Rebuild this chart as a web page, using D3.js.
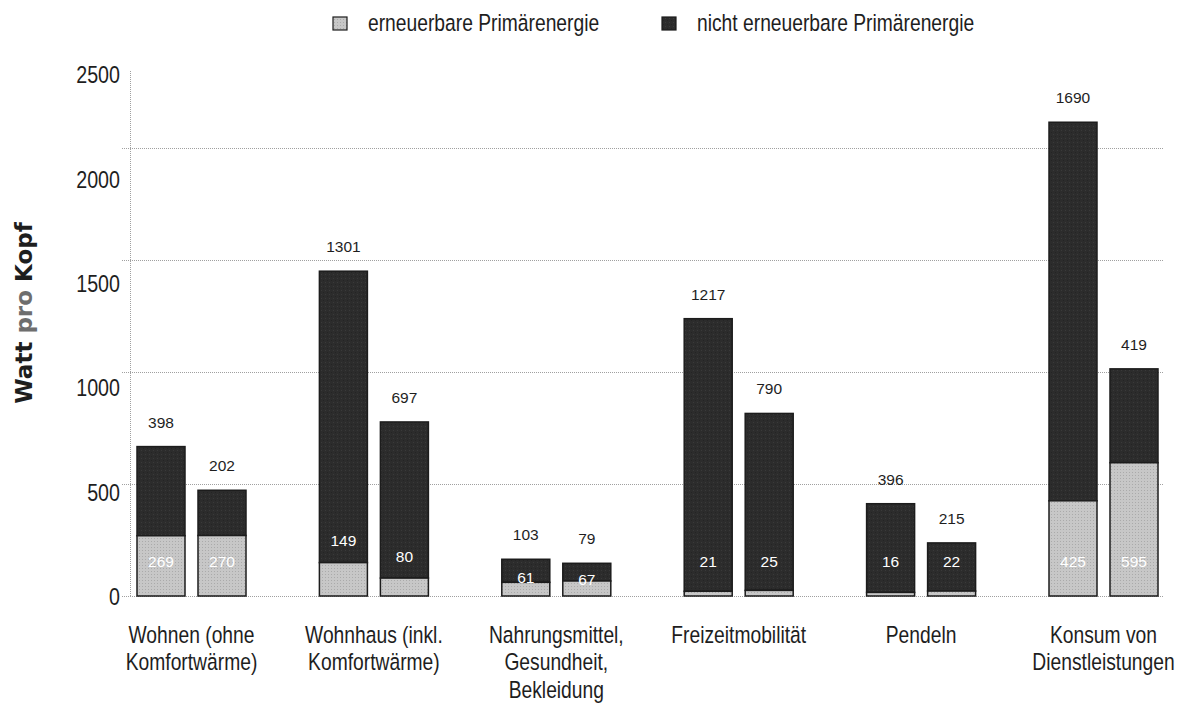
<!DOCTYPE html>
<html>
<head>
<meta charset="utf-8">
<script src="https://cdn.jsdelivr.net/npm/d3@7"></script>
<style>
  html, body { margin: 0; padding: 0; background: #ffffff; }
  svg { display: block; }
</style>
</head>
<body>
<svg id="chart" width="1185" height="703"></svg>
<script>
// ---------------- DATA ----------------
const categories = [
  "Wohnen (ohne\nKomfortwärme)",
  "Wohnhaus (inkl.\nKomfortwärme)",
  "Nahrungsmittel,\nGesundheit,\nBekleidung",
  "Freizeitmobilität",
  "Pendeln",
  "Konsum von\nDienstleistungen"
];
const seriesNames = ["erneuerbare Primärenergie", "nicht erneuerbare Primärenergie"];
// two bars per category
const renewable    = [[269, 270], [149, 80], [61, 67], [21, 25], [16, 22], [425, 595]];
const nonRenewable = [[398, 202], [1301, 697], [103, 79], [1217, 790], [396, 215], [1690, 419]];
const yTickValues  = [0, 500, 1000, 1500, 2000, 2500];
const gridValues   = [0, 500, 1000, 1500, 2000];
const yTitle = ["Watt ", "pro", " Kopf"];

// ---------------- LAYOUT ----------------
const baseY = 596;
const colDark = "#2c2c2c", colLight = "#c7c7c7", colStroke = "#1c1c1c";
const regular = "'Liberation Sans', Arial, sans-serif";
const narrowScale = "scale(0.82,1)";

const svg = d3.select("#chart");

// pattern textures
const defs = svg.append("defs");
const pl = defs.append("pattern").attr("id", "patLight").attr("width", 3).attr("height", 3)
  .attr("patternUnits", "userSpaceOnUse");
pl.append("rect").attr("width", 3).attr("height", 3).attr("fill", colLight);
pl.append("rect").attr("x", 1).attr("y", 1).attr("width", 1).attr("height", 1).attr("fill", "#aaaaaa");
const pd = defs.append("pattern").attr("id", "patDark").attr("width", 4).attr("height", 4)
  .attr("patternUnits", "userSpaceOnUse");
pd.append("rect").attr("width", 4).attr("height", 4).attr("fill", colDark);
pd.append("rect").attr("x", 1).attr("y", 2).attr("width", 1).attr("height", 1).attr("fill", "#3a3a3a");
pd.append("rect").attr("x", 3).attr("y", 0).attr("width", 1).attr("height", 1).attr("fill", "#242424");

// scales
const y = d3.scaleLinear().domain([0, 2500]).range([baseY, 36]);      // bars & grid
const yLabel = d3.scaleLinear().domain([0, 2500]).range([baseY, 74]); // printed tick labels
const x = d3.scaleBand().domain(d3.range(categories.length)).range([100.3, 1194.7]).padding(0);
const xInner = d3.scaleBand().domain([0, 1]).range([-54.5, 54.5]).paddingInner(13 / 61).paddingOuter(0);
const cx = i => x(i) + x.bandwidth() / 2;

// gridlines
const gridAxis = d3.axisLeft(y).tickValues(gridValues).tickSize(-(1164 - 122)).tickFormat("");
const gG = svg.append("g").attr("transform", "translate(122,0)").call(gridAxis);
gG.select(".domain").remove();
gG.selectAll("line").attr("stroke", "#a0a0a0").attr("stroke-width", 1).attr("stroke-dasharray", "1,1");

// vertical axis dotted line
svg.append("line").attr("x1", 130.5).attr("x2", 130.5).attr("y1", 71).attr("y2", baseY)
  .attr("stroke", "#a0a0a0").attr("stroke-width", 1).attr("stroke-dasharray", "1,1");

// tick labels
const labAxis = d3.axisLeft(yLabel).tickValues(yTickValues).tickSize(0).tickPadding(0).tickFormat(d3.format("d"));
const lG = svg.append("g").attr("transform", "translate(120,0)").call(labAxis);
lG.select(".domain").remove();
lG.selectAll("text").attr("font-family", regular).attr("font-size", 24).attr("fill", "#1e1e1e")
  .attr("dy", "0.36em").attr("transform", narrowScale);

// bars
const flat = [];
categories.forEach((c, i) => {
  [0, 1].forEach(j => flat.push({ i, j, r: renewable[i][j], n: nonRenewable[i][j] }));
});
const bx = d => cx(d.i) + xInner(d.j);

const bars = svg.append("g").selectAll("g").data(flat).join("g");
bars.append("rect")
  .attr("x", bx).attr("width", xInner.bandwidth())
  .attr("y", d => y(d.r + d.n)).attr("height", d => y(d.r) - y(d.r + d.n))
  .attr("fill", "url(#patDark)").attr("stroke", colStroke).attr("stroke-width", 1.5);
bars.append("rect")
  .attr("x", bx).attr("width", xInner.bandwidth())
  .attr("y", d => y(d.r)).attr("height", d => y(0) - y(d.r))
  .attr("fill", "url(#patLight)").attr("stroke", colStroke).attr("stroke-width", 1.5);

// top value labels (non-renewable)
bars.append("text")
  .attr("x", d => bx(d) + xInner.bandwidth() / 2)
  .attr("y", d => y(d.r + d.n) - 19)
  .attr("text-anchor", "middle").attr("font-family", regular).attr("font-size", 15.5).attr("fill", "#1e1e1e")
  .text(d => d.n);

// inner value labels (renewable)
function innerY(d) {
  const hLight = y(0) - y(d.r);
  const hDark = y(d.r) - y(d.r + d.n);
  if (hLight >= 40) return y(0) - 35;
  if (hDark >= 40) return Math.min(y(0) - 35, y(d.r) - 22);
  return (y(0) + y(d.r + d.n)) / 2;
}
bars.append("text")
  .attr("x", d => bx(d) + xInner.bandwidth() / 2)
  .attr("y", d => innerY(d) + 5.5)
  .attr("text-anchor", "middle").attr("font-family", regular).attr("font-size", 15.5).attr("fill", "#ffffff")
  .text(d => d.r);

// category labels
const clG = svg.append("g").selectAll("g").data(categories).join("g")
  .attr("transform", (d, i) => `translate(${cx(i)},643)`);
const cl = clG.append("text").attr("transform", narrowScale)
  .attr("text-anchor", "middle").attr("font-family", regular).attr("font-size", 23.5).attr("fill", "#1e1e1e");
cl.each(function (d) {
  const t = d3.select(this);
  d.split("\n").forEach((line, k) => {
    t.append("tspan").attr("x", 0).attr("dy", k === 0 ? 0 : 27.5).text(line);
  });
});

// legend
const legX = [333, 662];
const leg = svg.append("g").selectAll("g").data(seriesNames).join("g");
leg.append("rect").attr("x", (d, i) => legX[i]).attr("y", 17).attr("width", 14).attr("height", 13)
  .attr("fill", (d, i) => i === 0 ? "url(#patLight)" : "url(#patDark)")
  .attr("stroke", colStroke).attr("stroke-width", 1.2);
leg.append("g").attr("transform", (d, i) => `translate(${legX[i] + 35},31)`)
  .append("text").attr("transform", narrowScale)
  .attr("font-family", regular).attr("font-size", 23.5).attr("fill", "#1e1e1e").text(d => d);

// y-axis title
const yt = svg.append("text").attr("transform", "translate(32,313) rotate(-90)")
  .attr("text-anchor", "middle").attr("font-family", "'DejaVu Sans', Verdana, sans-serif")
  .attr("font-weight", "bold").attr("font-size", 23).attr("fill", "#1e1e1e");
yt.selectAll("tspan").data(yTitle).join("tspan")
  .attr("fill", (d, i) => i === 1 ? "#6e6e6e" : "#1e1e1e")
  .attr("xml:space", "preserve").text(d => d);
</script>
</body>
</html>
